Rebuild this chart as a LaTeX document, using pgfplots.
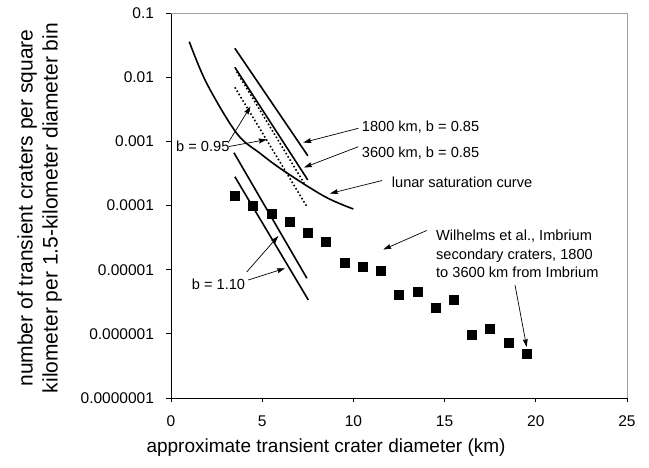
\documentclass[border=0pt]{standalone}
\usepackage{fontspec}
\setmainfont{Liberation Sans}
\usepackage{pgfplots}
\pgfplotsset{compat=1.18}
\usetikzlibrary{arrows.meta}

\tikzset{
  note/.style={inner sep=0pt, anchor=base west, font=\fontsize{14.6}{17}\selectfont},
  pointer/.style={line width=0.7pt, -{Stealth[length=8pt,width=5pt,inset=1pt]}},
}

\begin{document}
\begin{tikzpicture}[x=1pt,y=1pt]
\useasboundingbox (0,0) rectangle (649,467);
\begin{axis}[
  at={(171pt,69pt)}, anchor=south west,
  scale only axis, width=456pt, height=385pt,
  clip=false,
  xmin=0, xmax=25, ymin=1e-7, ymax=0.1, ymode=log,
  axis lines=left, axis line style={-, black, line width=0.8pt},
  tick align=outside, major tick length=4.5pt,
  tick style={black, line width=0.8pt},
  yminorticks=false,
  xtick={0,5,10,15,20,25},
  ytick={1e-7,1e-6,1e-5,1e-4,1e-3,1e-2,1e-1},
  yticklabels={0.0000001,0.000001,0.00001,0.0001,0.001,0.01,0.1},
  /pgf/number format/assume math mode=true,
  tick label style={font=\fontsize{15.5}{18}\selectfont},
  xticklabel style={yshift=-10pt},
  yticklabel style={xshift=-9pt},
  xlabel={approximate transient crater diameter (km)},
  xlabel style={at={(axis description cs:0.34,-0.1403)}, anchor=base,
    font=\fontsize{19}{23}\selectfont},
  ylabel={number of transient craters per square\\kilometer per 1.5-kilometer diameter bin},
  ylabel style={at={(axis description cs:-0.288,0.4935)}, anchor=center,
    rotate=0, align=center, font=\fontsize{21}{25}\selectfont},
]

% lunar saturation curve
\addplot[black, line width=1.6pt, smooth, tension=0.55] coordinates {
  (1.003,0.0357) (1.957,0.00802) (3.602,0.001334) (4.879,0.000652)
  (6.25,0.000337) (8.443,0.000137) (9.995,0.0000883)
};

% 1800 km and 3600 km, b = 0.85
\addplot[black, line width=1.6pt] coordinates {(3.5,0.0282) (7.5,0.000597)};
\addplot[black, line width=1.6pt] coordinates {(3.5,0.01426) (7.5,0.00025)};

% b = 0.95
\addplot[black, line width=1.6pt, dash pattern=on 1.6pt off 2.2pt] coordinates {(3.6,0.0122) (7.3,0.000222)};
\addplot[black, line width=1.6pt, dash pattern=on 1.6pt off 2.2pt] coordinates {(3.5,0.00695) (7.45,0.000096)};

% b = 1.10
\addplot[black, line width=1.6pt] coordinates {(3.45,0.000665) (7.45,0.00000735)};
\addplot[black, line width=1.6pt] coordinates {(3.5,0.000281) (7.53,0.00000337)};

% Wilhelms et al., Imbrium secondary craters
\addplot[only marks, mark=square*, mark size=4.5pt, black] coordinates {
  (3.5,1.4e-4) (4.5,1.0e-4) (5.5,7.5e-5) (6.5,5.6e-5) (7.5,3.8e-5)
  (8.5,2.7e-5) (9.5,1.3e-5) (10.5,1.1e-5) (11.5,9.5e-6) (12.5,4.1e-6)
  (13.5,4.5e-6) (14.5,2.6e-6) (15.5,3.4e-6) (16.5,9.8e-7) (17.5,1.2e-6)
  (18.5,7.3e-7) (19.5,4.9e-7)
};

% plot area frame (top and right)
\draw[gray!75, line width=0.8pt] (rel axis cs:0,1) -- (rel axis cs:1,1) -- (rel axis cs:1,0);

% annotations
\node[note] at (rel axis cs:0.4182,0.6935) {1800 km, b = 0.85};
\node[note] at (rel axis cs:0.4182,0.6252) {3600 km, b = 0.85};
\node[note] at (rel axis cs:0.484,0.547) {lunar saturation curve};
\node[note] at (rel axis cs:0.5811,0.4086) {Wilhelms et al., Imbrium};
\node[note] at (rel axis cs:0.5811,0.3610) {secondary craters, 1800};
\node[note] at (rel axis cs:0.5811,0.3125) {to 3600 km from Imbrium};
\node[note] at (rel axis cs:0.011,0.6397) {b = 0.95};
\node[note] at (rel axis cs:0.0454,0.2823) {b = 1.10};

\draw[pointer] (rel axis cs:0.4107,0.7005) -- (rel axis cs:0.2901,0.6636);
\draw[pointer] (rel axis cs:0.4107,0.6527) -- (rel axis cs:0.2917,0.5987);
\draw[pointer] (rel axis cs:0.4627,0.5649) -- (rel axis cs:0.3487,0.5312);
\draw[pointer] (rel axis cs:0.5607,0.4351) -- (rel axis cs:0.4656,0.3857);
\draw[pointer] (rel axis cs:0.7544,0.2935) -- (rel axis cs:0.7800,0.1325);
\draw[pointer] (rel axis cs:0.125,0.6623) -- (rel axis cs:0.1743,0.7571);
\draw[pointer] (rel axis cs:0.1272,0.6532) -- (rel axis cs:0.2099,0.6714);
\draw[pointer] (rel axis cs:0.1660,0.3273) -- (rel axis cs:0.2353,0.4208);
\draw[pointer] (rel axis cs:0.1695,0.3065) -- (rel axis cs:0.25,0.3369);
\end{axis}
\end{tikzpicture}
\end{document}
